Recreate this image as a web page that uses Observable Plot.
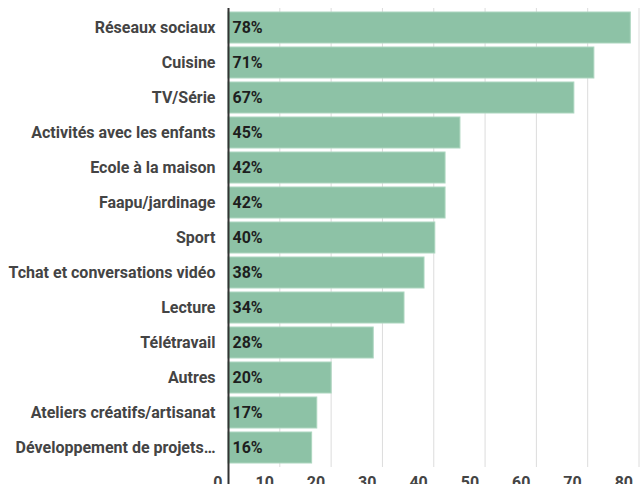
<!DOCTYPE html>
<html>
<head>
<meta charset="utf-8">
<script src="https://cdn.jsdelivr.net/npm/d3@7"></script>
<script src="https://cdn.jsdelivr.net/npm/@observablehq/plot@0.6"></script>
<style>
  html, body { margin: 0; padding: 0; overflow: hidden; background: #fff; }
  #chart svg { display: block; }
</style>
</head>
<body>
<div id="chart"></div>
<script>
const categories = [
  "Réseaux sociaux", "Cuisine", "TV/Série", "Activités avec les enfants",
  "Ecole à la maison", "Faapu/jardinage", "Sport", "Tchat et conversations vidéo",
  "Lecture", "Télétravail", "Autres", "Ateliers créatifs/artisanat",
  "Développement de projets…"
];
const values = [78.4, 71.3, 67.4, 45.2, 42.3, 42.3, 40.3, 38.2, 34.3, 28.3, 20.1, 17.3, 16.3];
const valueLabels = ["78%", "71%", "67%", "45%", "42%", "42%", "40%", "38%", "34%", "28%", "20%", "17%", "16%"];
const xTicks = [0, 10, 20, 30, 40, 50, 60, 70, 80];

const data = categories.map((c, i) => ({category: c, value: values[i], label: valueLabels[i]}));

const chart = Plot.plot({
  width: 640,
  height: 500,
  marginTop: 8,
  marginBottom: 33,
  marginLeft: 228,
  marginRight: 1.5,
  style: {fontFamily: "Roboto", background: "#fff"},
  x: {domain: [0, 80], ticks: xTicks},
  y: {domain: categories, padding: 0.11, label: null},
  marks: [
    Plot.gridX(xTicks, {stroke: "#dcdcdc", strokeOpacity: 1, strokeWidth: 1}),
    Plot.barX(data, {x: "value", y: "category", fill: "#8dc2a6", stroke: "#acd6bf", strokeWidth: 1}),
    Plot.text(data, {x: 0, y: "category", text: "label", textAnchor: "start", dx: 4, fill: "#1e1e1e", fontWeight: "bold", fontSize: 16}),
    Plot.ruleX([0], {stroke: "#333", strokeWidth: 2, insetBottom: -40}),
    Plot.axisY({tickSize: 0, tickPadding: 13, fontSize: 16, fontWeight: "bold", fill: "#444", label: null}),
    Plot.axisX(xTicks, {tickSize: 0, tickPadding: 9, textAnchor: "end", dx: -6, fontSize: 16, fontWeight: "bold", fill: "#444", label: null})
  ]
});
document.getElementById("chart").appendChild(chart);
</script>
</body>
</html>
